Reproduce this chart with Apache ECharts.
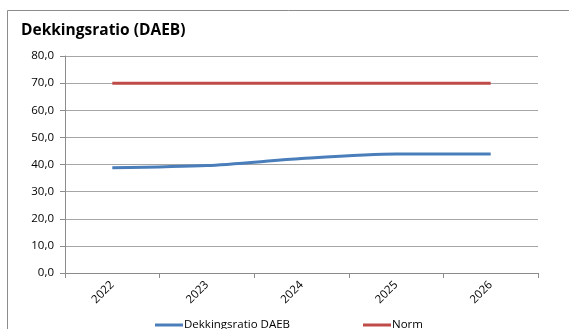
<!DOCTYPE html>
<html>
<head>
<meta charset="utf-8">
<script src="https://cdn.jsdelivr.net/npm/echarts@6/dist/echarts.min.js"></script>
<style>
html,body{margin:0;padding:0;background:#fff;}
#chart{width:569px;height:329px;}
</style>
</head>
<body>
<div id="chart"></div>
<script>
const categories = ['2022', '2023', '2024', '2025', '2026'];
const dekkingsratio = [38.8, 39.6, 42.2, 43.9, 43.9];
const norm = [70.0, 70.0, 70.0, 70.0, 70.0];
const yTicks = [0, 10, 20, 30, 40, 50, 60, 70, 80];

const font = '"Open Sans", sans-serif';
const chart = echarts.init(document.getElementById('chart'), null, {renderer: 'canvas'});
chart.setOption({
  animation: false,
  backgroundColor: '#fff',
  title: {
    text: 'Dekkingsratio (DAEB)',
    left: 16, top: 18,
    textStyle: {fontFamily: font, fontWeight: 'bold', fontSize: 15.5, color: '#000'}
  },
  graphic: [{
    type: 'rect', silent: true,
    shape: {x: 7.5, y: 10.5, width: 700, height: 500},
    style: {fill: 'none', stroke: '#8c8c8c', lineWidth: 1}
  }],
  legend: {
    bottom: -7, left: 150,
    itemWidth: 28, itemHeight: 3, itemGap: 73,
    icon: 'rect',
    textStyle: {fontFamily: font, fontSize: 11.5, color: '#000', padding: [0,0,0,-4]},
    data: ['Dekkingsratio DAEB', 'Norm']
  },
  grid: {left: 65, right: 31, top: 56, bottom: 56, containLabel: false},
  xAxis: {
    type: 'category', data: categories, boundaryGap: true,
    axisLine: {lineStyle: {color: '#8c8c8c', width: 1}},
    axisTick: {show: true, length: 5, lineStyle: {color: '#8c8c8c'}},
    axisLabel: {rotate: 45, fontFamily: font, fontSize: 11.5, color: '#000', margin: 10}
  },
  yAxis: {
    type: 'value', min: 0, max: 80, interval: 10,
    axisLine: {show: true, lineStyle: {color: '#8c8c8c', width: 1}},
    axisTick: {show: true, length: 5, lineStyle: {color: '#8c8c8c'}},
    splitLine: {lineStyle: {color: '#a6a6a6', width: 1}},
    axisLabel: {fontFamily: font, fontSize: 11.5, color: '#000', margin: 11,
      formatter: v => v.toFixed(1).replace('.', ',')}
  },
  series: [
    {name: 'Dekkingsratio DAEB', type: 'line', data: dekkingsratio, smooth: 0.25,
     symbol: 'none', lineStyle: {color: '#4a7ebb', width: 3}, itemStyle: {color: '#4a7ebb'}},
    {name: 'Norm', type: 'line', data: norm,
     symbol: 'none', lineStyle: {color: '#be4b48', width: 3}, itemStyle: {color: '#be4b48'}}
  ]
});
</script>
</body>
</html>
